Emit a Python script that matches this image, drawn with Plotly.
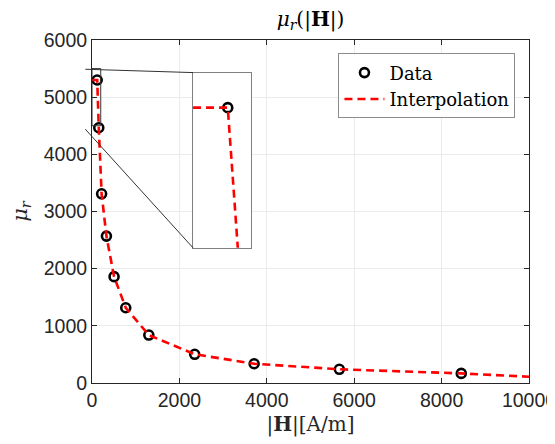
import plotly.graph_objects as go

# ----------------------------- data -----------------------------

H = [119, 155, 220, 330, 505, 772, 1300, 2350, 3710, 5660, 8450]
mu = [5300, 4465, 3310, 2570, 1860, 1316, 839, 502, 337, 240, 168]

# interpolation curve (held flat to the left, extrapolated to the right)
interp_H = [0, 119, 155, 220, 330, 505, 772, 1300, 2350, 3710, 5660, 8450, 10000]
interp_mu = [5300, 5300, 4465, 3310, 2570, 1860, 1316, 839, 502, 337, 240, 168, 110]

x_ticks = [0, 2000, 4000, 6000, 8000, 10000]
x_tick_labels = ["0", "2000", "4000", "6000", "8000", "10000"]
y_ticks = [0, 1000, 2000, 3000, 4000, 5000, 6000]
y_tick_labels = ["0", "1000", "2000", "3000", "4000", "5000", "6000"]

zoom_x = [0, 200]
zoom_y = [4500, 5500]

# --------------------------------------------------------------------------------------

serif = "DejaVu Serif"
sans = "Liberation Sans"
axis_col = "#262626"
grid_col = "#ebebeb"

marker = dict(symbol="circle-open", size=9, color="black", line=dict(width=2.6, color="black"))
dash_line = dict(color="#ff0000", width=2.6, dash="8px,5px")

fig = go.Figure()

fig.add_trace(go.Scatter(x=H, y=mu, mode="markers", marker=marker, name="Data"))
fig.add_trace(go.Scatter(x=interp_H, y=interp_mu, mode="lines", line=dash_line, name="Interpolation"))

# inset (zoomed view)
fig.add_trace(go.Scatter(x=H, y=mu, mode="markers", marker=marker, showlegend=False,
                         xaxis="x2", yaxis="y2", cliponaxis=True))
fig.add_trace(go.Scatter(x=interp_H, y=interp_mu, mode="lines", line=dash_line, showlegend=False,
                         xaxis="x2", yaxis="y2"))

axis_common = dict(showline=True, linecolor=axis_col, linewidth=1, mirror="ticks",
                   ticks="inside", ticklen=5, tickcolor=axis_col, showgrid=True,
                   gridcolor=grid_col, gridwidth=1, zeroline=False, automargin=False,
                   ticklabeloverflow="allow",
                   tickfont=dict(family=sans, size=19.5, color=axis_col))

# page body has an 8px margin, so the figure is a bit smaller than the window
fig.update_layout(
    width=547, height=436,
    margin=dict(l=84, r=26, t=32, b=61),
    paper_bgcolor="white", plot_bgcolor="white",
    title=dict(text="<i>μ</i><sub><i>r</i></sub>(|<b>H</b>|)", xref="paper", x=0.5, xanchor="center",
               y=0.975, yanchor="middle", font=dict(family=serif, size=20, color="black")),
    xaxis=dict(range=[0, 10000], tickvals=x_ticks, ticktext=x_tick_labels, domain=[0, 1],
               title=dict(text="|<b>H</b>|[A/m]", font=dict(family=serif, size=20, color=axis_col),
                          standoff=6),
               **axis_common),
    yaxis=dict(range=[0, 6000], tickvals=y_ticks, ticktext=y_tick_labels, domain=[0, 1],
               title=dict(text="<i>μ</i><sub><i>r</i></sub>", font=dict(family=serif, size=21, color=axis_col),
                          standoff=18),
               **axis_common),
    xaxis2=dict(range=zoom_x, domain=[0.2312, 0.3647], anchor="y2", showticklabels=False,
                ticks="", showgrid=False, zeroline=False, showline=True, mirror=True,
                linecolor="#808080", linewidth=1, automargin=False),
    yaxis2=dict(range=zoom_y, domain=[0.394, 0.905], anchor="x2", showticklabels=False,
                ticks="", showgrid=False, zeroline=False, showline=True, mirror=True,
                linecolor="#808080", linewidth=1, automargin=False),
    legend=dict(x=0.969, y=0.961, xanchor="right", yanchor="top",
                bgcolor="white", bordercolor="#8c8c8c", borderwidth=1,
                font=dict(family=serif, size=18, color="black"),
                itemwidth=40, tracegroupgap=0),
    showlegend=True,
)

# zoom box on the main axes and the connector lines to the inset
fig.add_shape(type="rect", xref="x", yref="y", x0=zoom_x[0], x1=zoom_x[1], y0=zoom_y[0], y1=zoom_y[1],
              line=dict(color="#333333", width=1))
fig.add_shape(type="line", xref="paper", yref="paper", x0=-0.0153, y0=0.9147, x1=0.2312, y1=0.905,
              line=dict(color="#333333", width=1))
fig.add_shape(type="line", xref="paper", yref="paper", x0=-0.0153, y0=0.740, x1=0.2312, y1=0.394,
              line=dict(color="#333333", width=1))

fig.write_html("out.html")
